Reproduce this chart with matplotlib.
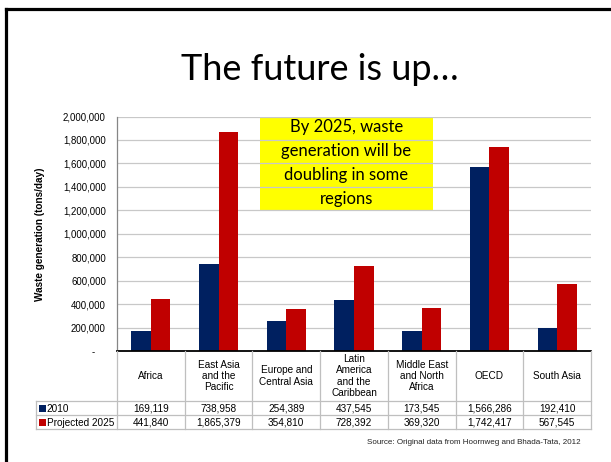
import matplotlib
matplotlib.use('Agg')
from matplotlib import pyplot as plt
from matplotlib.lines import Line2D
from matplotlib.patches import Rectangle
import matplotlib.transforms as mtransforms
from matplotlib.ticker import FuncFormatter, MultipleLocator
import numpy as np

plt.rcParams['font.family'] = ['Liberation Sans', 'DejaVu Sans']

# data
regions = ['Africa', 'East Asia\nand the\nPacific', 'Europe and\nCentral Asia',
           'Latin\nAmerica\nand the\nCaribbean', 'Middle East\nand North\nAfrica',
           'OECD', 'South Asia']
waste_2010 = [169119, 738958, 254389, 437545, 173545, 1566286, 192410]
waste_2025 = [441840, 1865379, 354810, 728392, 369320, 1742417, 567545]
series_names = ['2010', 'Projected 2025']
colors = ['#002060', '#C00000']

W, H = 611, 462
fig = plt.figure(figsize=(W / 100, H / 100), dpi=100)

def fx(x):
    return x / W

def fy(y):
    return 1 - y / H

# slide frame (left and top edges)
fig.add_artist(Line2D([fx(5.5), fx(5.5)], [fy(8.5), 0], color='black', lw=2.3))
fig.add_artist(Line2D([fx(5.5), 1], [fy(8.5), fy(8.5)], color='black', lw=2.3))

fig.text(fx(320), fy(70), 'The future is up\u2026', family=['Lato', 'DejaVu Sans'],
         fontsize=26, ha='center', va='center')

# plot area
ax_l, ax_r, ax_t, ax_b = 117, 591, 116.5, 351
ax = fig.add_axes([fx(ax_l), fy(ax_b), (ax_r - ax_l) / W, (ax_b - ax_t) / H])
x = np.arange(len(regions))
w = 0.29
ax.bar(x - w / 2, waste_2010, w, color=colors[0], zorder=2)
ax.bar(x + w / 2, waste_2025, w, color=colors[1], zorder=2)
ax.set_xlim(-0.5, len(regions) - 0.5)
ax.set_ylim(0, 2000000)
ax.yaxis.set_major_locator(MultipleLocator(200000))
ax.yaxis.set_major_formatter(FuncFormatter(lambda v, p: '-    ' if v == 0 else f'{int(v):,}'))
ax.grid(axis='y', color='#C8C8C8', lw=0.9, zorder=1)
ax.set_axisbelow(True)
ax.set_xticks([])
ax.tick_params(axis='y', length=0, pad=8, labelsize=6.9)
for s in ['top', 'right']:
    ax.spines[s].set_visible(False)
ax.spines['left'].set_color('#868686')
ax.spines['left'].set_linewidth(0.9)
ax.spines['bottom'].set_color('black')
ax.spines['bottom'].set_linewidth(1.3)
ax.spines['bottom'].set_zorder(3)

fig.text(fx(40), fy(234), 'Waste generation (tons/day)', rotation=90, fontsize=7.2,
         fontweight='bold', ha='center', va='center')

# callout box (gridlines show through it in the original)
ax.add_patch(Rectangle(((260 - ax_l) / (ax_r - ax_l), (ax_b - 211) / (ax_b - ax_t)),
                       (433 - 260) / (ax_r - ax_l), (211 - 117) / (ax_b - ax_t),
                       transform=ax.transAxes, facecolor='#FFFF00', edgecolor='none',
                       zorder=0.2))
ax.text((346.5 - ax_l) / (ax_r - ax_l), (ax_b - 163) / (ax_b - ax_t),
        'By 2025, waste\ngeneration will be\ndoubling in some\nregions',
        transform=ax.transAxes, family=['Lato', 'DejaVu Sans'], fontsize=12,
        ha='center', va='center', linespacing=1.62, zorder=4)

# data table below the axis
tr = mtransforms.blended_transform_factory(ax.transData, fig.transFigure)
grid_c = '#BFBFBF'
row_y = [351, 401, 415, 429]
edges = np.arange(len(regions) + 1) - 0.5
for e in edges:
    fig.add_artist(Line2D([e, e], [fy(351), fy(429)], transform=tr, color=grid_c, lw=0.9))
for yy in row_y[1:]:
    fig.add_artist(Line2D([fx(36), fx(ax_r)], [fy(yy), fy(yy)], color=grid_c, lw=0.9))
fig.add_artist(Line2D([fx(36), fx(36)], [fy(401), fy(429)], color=grid_c, lw=0.9))

for i, name in enumerate(regions):
    ax.text(i, fy(376), name, transform=tr, ha='center', va='center',
            fontsize=7.2, linespacing=1.15)
    ax.text(i, fy(408.5), f'{waste_2010[i]:,}', transform=tr, ha='center', va='center',
            fontsize=7.2)
    ax.text(i, fy(422.5), f'{waste_2025[i]:,}', transform=tr, ha='center', va='center',
            fontsize=7.2)

for k, (name, c) in enumerate(zip(series_names, colors)):
    yc = 408.5 + 14 * k
    fig.add_artist(Rectangle((fx(38.5), fy(yc + 3.5)), 7 / W, 7 / H, facecolor=c,
                             edgecolor='none', transform=fig.transFigure))
    fig.text(fx(46.5), fy(yc), name, fontsize=7.2, ha='left', va='center')

fig.text(fx(581), fy(443), 'Source: Original data from Hoornweg and Bhada-Tata, 2012',
         fontsize=5.8, ha='right', va='center', color='#222222')

fig.savefig('out.png', dpi=100)
